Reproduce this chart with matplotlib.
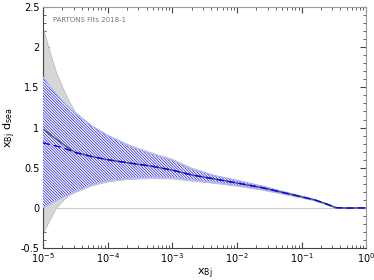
import numpy as np
import matplotlib
matplotlib.use('Agg')
import matplotlib.pyplot as plt
from matplotlib.ticker import MultipleLocator, FormatStrFormatter

# x_Bj sampling points
x_bj = [1.0e-5, 1.26e-5, 1.58e-5, 2.0e-5, 2.51e-5, 3.16e-5, 5.6e-5, 1.0e-4,
        2.1e-4, 4.7e-4, 1.0e-3, 2.0e-3, 4.5e-3, 1.0e-2, 2.5e-2, 7.2e-2,
        0.16, 0.25, 0.34, 0.5, 1.0]

# central fit (solid) and alternative (dashed)
fit_central = [0.98, 0.92, 0.86, 0.80, 0.74, 0.69, 0.64, 0.60, 0.56, 0.52, 0.47,
               0.41, 0.36, 0.31, 0.25, 0.165, 0.10, 0.045, 0.003, -0.002, 0.0]
fit_dashed = [0.81, 0.79, 0.77, 0.75, 0.72, 0.69, 0.64, 0.60, 0.56, 0.52, 0.47,
              0.41, 0.36, 0.31, 0.25, 0.165, 0.10, 0.045, 0.003, -0.002, 0.0]

# hatched (blue) uncertainty band
blue_upper = [1.63, 1.52, 1.42, 1.33, 1.25, 1.17, 1.02, 0.90, 0.77, 0.67, 0.59,
              0.48, 0.40, 0.34, 0.27, 0.175, 0.105, 0.05, 0.006, 0.0, 0.0]
blue_lower = [0.0, 0.05, 0.09, 0.13, 0.17, 0.21, 0.29, 0.34, 0.37, 0.385, 0.38,
              0.35, 0.32, 0.28, 0.23, 0.155, 0.095, 0.04, 0.0, -0.004, 0.0]

# grey uncertainty band
grey_upper = [2.24, 1.95, 1.70, 1.50, 1.33, 1.19, 1.03, 0.91, 0.79, 0.69, 0.61,
              0.50, 0.41, 0.35, 0.275, 0.18, 0.108, 0.052, 0.008, 0.001, 0.0]
grey_lower = [-0.31, -0.15, 0.0, 0.09, 0.16, 0.20, 0.28, 0.33, 0.36, 0.37, 0.365,
              0.34, 0.31, 0.275, 0.225, 0.15, 0.092, 0.038, -0.002, -0.006, 0.0]

plt.rcParams['hatch.linewidth'] = 0.45

fig = plt.figure(figsize=(3.74, 2.8), dpi=100)
ax = fig.add_axes([0.115, 0.114, 0.864, 0.861])

ax.axhline(0, color='#cccccc', lw=0.8, zorder=1)

ax.fill_between(x_bj, grey_lower, grey_upper, facecolor='#d6d6d6',
                edgecolor='#b5b5b5', lw=0.5, zorder=2)
ax.fill_between(x_bj, blue_lower, blue_upper, facecolor='white',
                edgecolor='blue', hatch='\\' * 12, lw=0, zorder=3)
ax.plot(x_bj, blue_upper, color='#a8a8ff', lw=0.7, zorder=4)
ax.plot(x_bj, blue_lower, color='#a8a8ff', lw=0.7, zorder=4)

ax.plot(x_bj, fit_central, color='#505050', lw=1.0, zorder=5)
ax.plot(x_bj, fit_dashed, color='blue', lw=1.0, ls=(0, (5, 3)), zorder=6)

ax.set_xscale('log')
ax.set_xlim(1e-5, 1)
ax.set_ylim(-0.5, 2.5)
ax.yaxis.set_major_locator(MultipleLocator(0.5))
ax.yaxis.set_minor_locator(MultipleLocator(0.1))
ax.yaxis.set_major_formatter(FormatStrFormatter('%g'))

ax.tick_params(which='both', direction='in', top=True, right=True,
               labelsize=7, pad=2.5)
ax.tick_params(which='major', length=4, width=0.8)
ax.tick_params(which='minor', length=2, width=0.6)
for side in ['left', 'bottom']:
    ax.spines[side].set_color('#444444')
for side in ['top', 'right']:
    ax.spines[side].set_color('#999999')
ax.tick_params(which='both', colors='#444444', labelcolor='black')

ax.set_xlabel(r'$\mathregular{x_{Bj}}$', fontsize=8, labelpad=1)
ax.set_ylabel(r'$\mathregular{x_{Bj}\ d_{sea}}$', fontsize=8, labelpad=2)

ax.text(0.03, 0.946, 'PARTONS Fits 2018-1', transform=ax.transAxes,
        fontsize=5, color='#777777', va='center')

fig.savefig('out.png', dpi=100)
